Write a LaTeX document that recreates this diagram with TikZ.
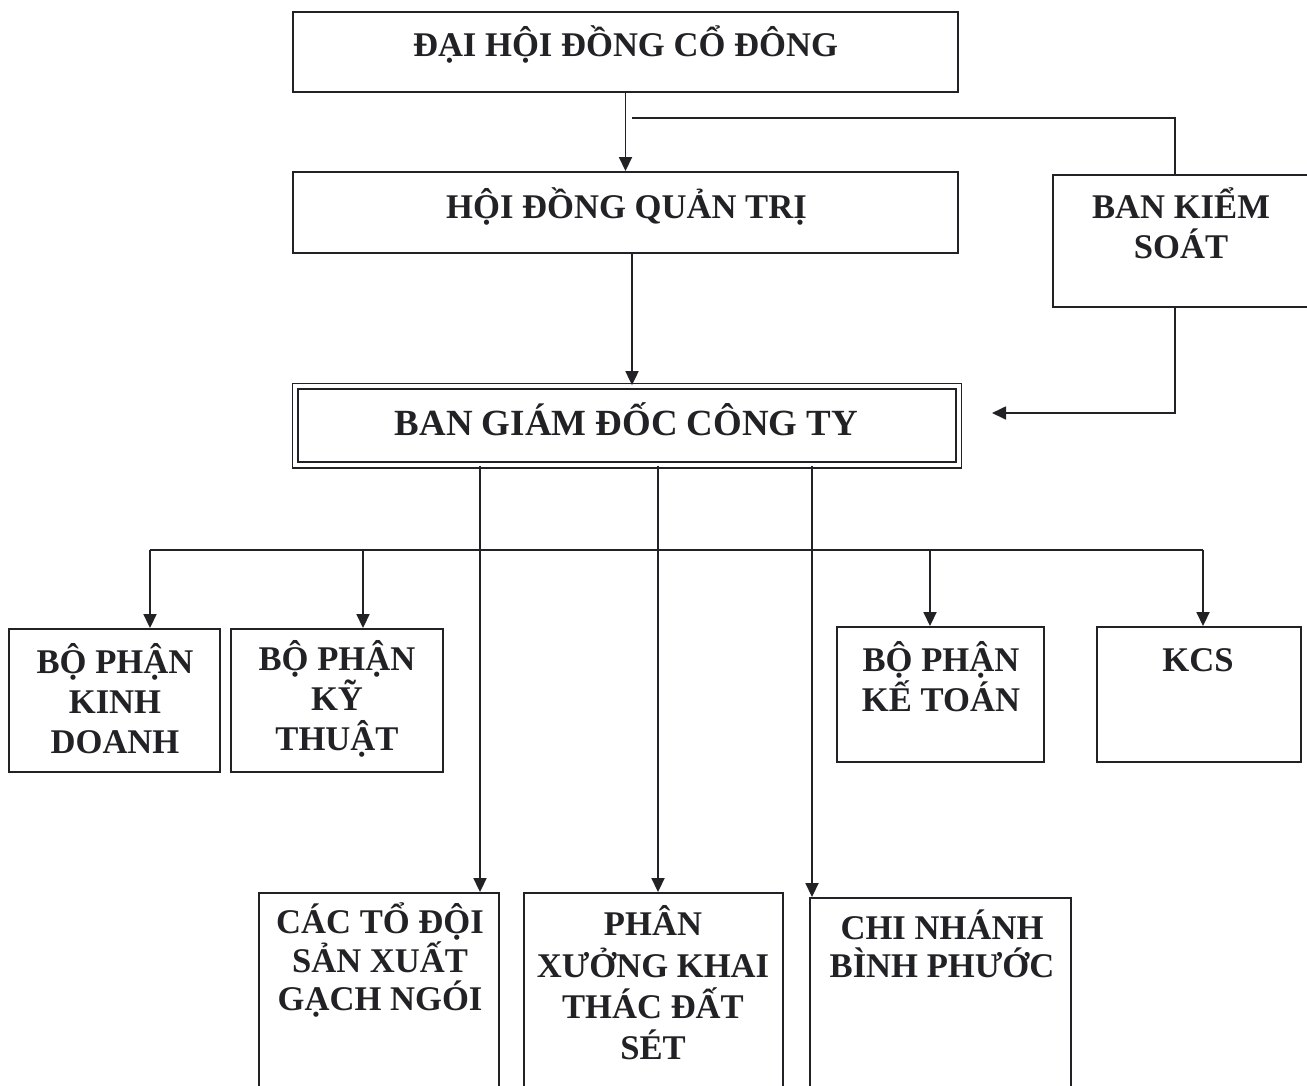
\documentclass[tikz,border=0pt]{standalone}
\usepackage{fontspec}
\setmainfont{Liberation Serif}
\usepackage{tikz}
\usetikzlibrary{arrows.meta, positioning, calc}
\definecolor{inkdark}{RGB}{34, 34, 38}
\tikzset{
    box/.style   ={draw=inkdark, line width=1.1pt, fill=white, inner sep=0pt},
    mainbox/.style={box, line width=1pt, double=white, double distance=0.07cm},
    txt/.style   ={text=inkdark, align=center, inner sep=0pt,
                   font=\fontsize{19.7}{22.8}\selectfont\bfseries},
    bigtxt/.style={txt, font=\fontsize{21}{24}\selectfont\bfseries},
    ar/.style    ={-{Triangle[length=2.8mm, width=2.6mm]}, line width=1pt, draw=inkdark},
    ln/.style    ={line width=1pt, draw=inkdark}
}

\begin{document}
\begin{tikzpicture}[x=0.02cm, y=-0.02cm]
  \useasboundingbox (0,0) rectangle (1307,1085);
  \clip (0,0) rectangle (1307,1085);

  % top levels
  \node[box, minimum width=13.3cm, minimum height=1.6cm] (dhcd) at (625.5,52) {};
  \node[txt] (dhcdT) at (625.5,44) {ĐẠI HỘI ĐỒNG CỔ ĐÔNG};
  \node[box, minimum width=13.3cm, minimum height=1.62cm] (hdqt) at (625.5,212.5) {};
  \node[txt] (hdqtT) at (626.5,206) {HỘI ĐỒNG QUẢN TRỊ};
  \node[mainbox, minimum width=13.28cm, minimum height=1.58cm] (bgd) at (627,425.5) {};
  \node[bigtxt] (bgdT) at (626.5,419) {BAN GIÁM ĐỐC CÔNG TY};
  \node[box, minimum width=5.54cm, minimum height=2.64cm] (bks) at (1191.5,241) {};
  \node[txt] (bksT) at (1181,223) {BAN KIỂM\\SOÁT};

  % departments
  \node[box, minimum width=4.22cm, minimum height=2.86cm] (kd) at (114.5,700.5) {};
  \node[txt] (kdT) at (115,699) {BỘ PHẬN\\KINH\\DOANH};
  \node[box, minimum width=4.24cm, minimum height=2.86cm] (kt) at (337,700.5) {};
  \node[txt] (ktT) at (337,699) {BỘ PHẬN\\KỸ\\THUẬT};
  \node[box, minimum width=4.14cm, minimum height=2.7cm] (ktoan) at (940.5,694.5) {};
  \node[txt] (ktoanT) at (941,677) {BỘ PHẬN\\KẾ TOÁN};
  \node[box, minimum width=4.08cm, minimum height=2.7cm] (kcs) at (1199,694.5) {};
  \node[txt] (kcsT) at (1198,660) {KCS};

  % production units
  \node[box, minimum width=4.8cm, minimum height=4.74cm] (todoi) at (379,1011.5) {};
  \node[txt, font=\fontsize{19.7}{22}\selectfont\bfseries] (todoiT) at (380,960) {CÁC TỔ ĐỘI\\SẢN XUẤT\\GẠCH NGÓI};
  \node[box, minimum width=5.18cm, minimum height=4.74cm] (px) at (653.5,1011.5) {};
  \node[txt, font=\fontsize{19.7}{23.5}\selectfont\bfseries] (pxT) at (653,983) {PHÂN\\XƯỞNG KHAI\\THÁC ĐẤT\\SÉT};
  \node[box, minimum width=5.22cm, minimum height=4.64cm] (cn) at (940.5,1014) {};
  \node[txt, font=\fontsize{19.7}{21.5}\selectfont\bfseries] (cnT) at (942,944) {CHI NHÁNH\\BÌNH PHƯỚC};

  % connectors
  \coordinate (ksbr) at (632,118);
  \coordinate (ksx) at (1175,118);
  \coordinate (bgdR) at (992,413);
  \coordinate (busL) at (150,550);
  \coordinate (busR) at (1203,550);

  \draw[ar] (dhcd.south) -- (hdqt.north);
  \draw[ln] (ksbr) -- (ksx) -- (ksx |- bks.north);
  \draw[ar] (ksx |- bks.south) -- (ksx |- bgdR) -- (bgdR);
  \draw[ar] ([xshift=0.13cm]hdqt.south) -- ([xshift=0.13cm]hdqt.south |- bgd.north);

  \draw[ln] (busL) -- (busR);
  \draw[ar] (busL) -- (busL |- kd.north);
  \draw[ar] (363,550) -- (363,0 |- kt.north);
  \draw[ar] (930,550) -- (930,0 |- ktoan.north);
  \draw[ar] (busR) -- (busR |- kcs.north);

  \draw[ar] (480,0 |- bgd.south) -- (480,0 |- todoi.north);
  \draw[ar] (658,0 |- bgd.south) -- (658,0 |- px.north);
  \draw[ar] (812,0 |- bgd.south) -- (812,0 |- cn.north);
\end{tikzpicture}
\end{document}
